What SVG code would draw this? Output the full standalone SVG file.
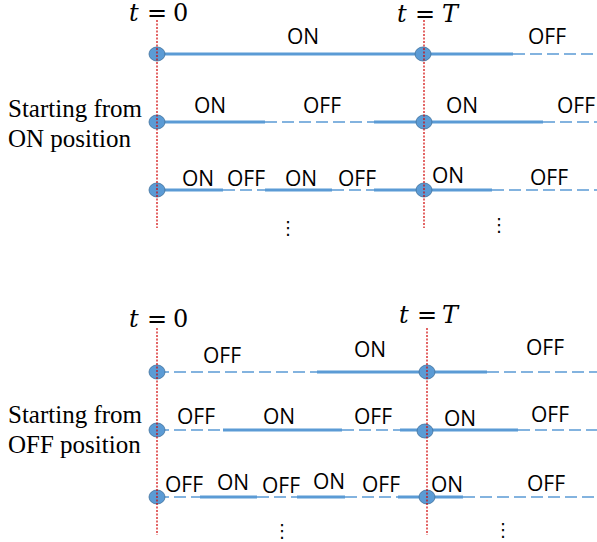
<svg xmlns="http://www.w3.org/2000/svg" width="597" height="542" viewBox="0 0 597 542">
<style>
.on{stroke:#5B9BD5;stroke-width:3;fill:none}
.off{stroke:#5B9BD5;stroke-width:1.5;stroke-dasharray:12 5;fill:none}
.dot{fill:#5B9BD5;stroke:#41719C;stroke-width:0.8}
.red{stroke:#D00000;stroke-width:1.2;stroke-dasharray:2 1.5}
.lbl{font-family:"Open Sans","Liberation Sans",sans-serif;font-size:21px;fill:#000}
.side{font-family:"Liberation Serif",serif;font-size:25px;fill:#000}
.math{font-family:"DejaVu Serif","Liberation Serif",serif;font-size:24px;fill:#000}
.vd{font-family:"DejaVu Sans",sans-serif;font-size:18px;fill:#000;text-anchor:middle}
</style>

<g id="connectors">
  <line class="on" x1="157" y1="54" x2="513" y2="54"/>
  <line class="off" x1="513" y1="54" x2="597" y2="54"/>

  <line class="on" x1="157" y1="122" x2="265" y2="122"/>
  <line class="off" x1="265" y1="122" x2="374" y2="122"/>
  <line class="on" x1="374" y1="122" x2="543" y2="122"/>
  <line class="off" x1="543" y1="122" x2="597" y2="122"/>

  <line class="on" x1="157" y1="190" x2="223" y2="190"/>
  <line class="off" x1="223" y1="190" x2="265" y2="190"/>
  <line class="on" x1="265" y1="190" x2="332" y2="190"/>
  <line class="off" x1="332" y1="190" x2="374" y2="190"/>
  <line class="on" x1="374" y1="190" x2="492" y2="190"/>
  <line class="off" x1="492" y1="190" x2="597" y2="190"/>

  <line class="off" x1="157" y1="372" x2="317" y2="372"/>
  <line class="on" x1="317" y1="372" x2="487" y2="372"/>
  <line class="off" x1="487" y1="372" x2="597" y2="372"/>

  <line class="off" x1="157" y1="430" x2="223" y2="430"/>
  <line class="on" x1="223" y1="430" x2="342" y2="430"/>
  <line class="off" x1="342" y1="430" x2="400" y2="430"/>
  <line class="on" x1="400" y1="430" x2="518" y2="430"/>
  <line class="off" x1="518" y1="430" x2="597" y2="430"/>

  <line class="off" x1="157" y1="497" x2="200" y2="497"/>
  <line class="on" x1="200" y1="497" x2="257" y2="497"/>
  <line class="off" x1="257" y1="497" x2="297" y2="497"/>
  <line class="on" x1="297" y1="497" x2="345" y2="497"/>
  <line class="off" x1="345" y1="497" x2="398" y2="497"/>
  <line class="on" x1="398" y1="497" x2="463" y2="497"/>
  <line class="off" x1="463" y1="497" x2="597" y2="497"/>
</g>

<g id="top-nodes">
  <g id="n-t1-0"><ellipse class="dot" cx="157" cy="54" rx="8" ry="7"/></g>
  <g id="n-t1-T"><ellipse class="dot" cx="423" cy="54" rx="8" ry="7"/></g>
  <g id="n-t2-0"><ellipse class="dot" cx="157" cy="122" rx="8" ry="7"/></g>
  <g id="n-t2-T"><ellipse class="dot" cx="424" cy="122" rx="8" ry="7"/></g>
  <g id="n-t3-0"><ellipse class="dot" cx="157" cy="190" rx="8" ry="7"/></g>
  <g id="n-t3-T"><ellipse class="dot" cx="424" cy="190" rx="8" ry="7"/></g>
</g>
<g id="bottom-nodes">
  <g id="n-b1-0"><ellipse class="dot" cx="157" cy="372" rx="8" ry="7"/></g>
  <g id="n-b1-T"><ellipse class="dot" cx="427" cy="372" rx="8" ry="7"/></g>
  <g id="n-b2-0"><ellipse class="dot" cx="157" cy="430" rx="8" ry="7"/></g>
  <g id="n-b2-T"><ellipse class="dot" cx="425" cy="431" rx="8" ry="7"/></g>
  <g id="n-b3-0"><ellipse class="dot" cx="157" cy="497" rx="8" ry="7"/></g>
  <g id="n-b3-T"><ellipse class="dot" cx="427" cy="497" rx="8" ry="7"/></g>
</g>

<g id="time-markers">
  <line class="red" x1="157" y1="20" x2="157" y2="228"/>
  <line class="red" x1="424" y1="20" x2="424" y2="228"/>
  <line class="red" x1="157" y1="328" x2="157" y2="535"/>
  <line class="red" x1="427" y1="328" x2="427" y2="535"/>
  <text class="math" y="21"><tspan x="129" font-style="italic">t</tspan><tspan x="147">=</tspan><tspan x="173">0</tspan></text>
  <text class="math" y="22"><tspan x="397" font-style="italic">t</tspan><tspan x="415">=</tspan><tspan x="442" font-style="italic">T</tspan></text>
  <text class="math" y="327"><tspan x="129" font-style="italic">t</tspan><tspan x="147">=</tspan><tspan x="173">0</tspan></text>
  <text class="math" y="323"><tspan x="399" font-style="italic">t</tspan><tspan x="417">=</tspan><tspan x="442" font-style="italic">T</tspan></text>
</g>

<g id="side-labels">
  <text class="side" x="8" y="117">Starting from</text>
  <text class="side" x="8" y="147">ON position</text>
  <text class="side" x="8" y="423">Starting from</text>
  <text class="side" x="8" y="453">OFF position</text>
</g>

<g id="state-labels">
  <text class="lbl" x="287" y="44">ON</text>
  <text class="lbl" x="528" y="44">OFF</text>

  <text class="lbl" x="194" y="113">ON</text>
  <text class="lbl" x="303" y="113">OFF</text>
  <text class="lbl" x="446" y="113">ON</text>
  <text class="lbl" x="557" y="113">OFF</text>

  <text class="lbl" x="182" y="186">ON</text>
  <text class="lbl" x="227" y="186">OFF</text>
  <text class="lbl" x="285" y="186">ON</text>
  <text class="lbl" x="338" y="186">OFF</text>
  <text class="lbl" x="432" y="183">ON</text>
  <text class="lbl" x="530" y="185">OFF</text>

  <text class="lbl" x="203" y="363">OFF</text>
  <text class="lbl" x="354" y="357">ON</text>
  <text class="lbl" x="526" y="355">OFF</text>

  <text class="lbl" x="177" y="424">OFF</text>
  <text class="lbl" x="263" y="424">ON</text>
  <text class="lbl" x="354" y="424">OFF</text>
  <text class="lbl" x="444" y="426">ON</text>
  <text class="lbl" x="531" y="422">OFF</text>

  <text class="lbl" x="165" y="492">OFF</text>
  <text class="lbl" x="217" y="490">ON</text>
  <text class="lbl" x="262" y="493">OFF</text>
  <text class="lbl" x="313" y="489">ON</text>
  <text class="lbl" x="362" y="492">OFF</text>
  <text class="lbl" x="431" y="492">ON</text>
  <text class="lbl" x="527" y="491">OFF</text>
</g>

<g id="ellipses">
  <text class="vd" x="288" y="234">⋮</text>
  <text class="vd" x="499" y="231">⋮</text>
  <text class="vd" x="282" y="537">⋮</text>
  <text class="vd" x="503" y="536">⋮</text>
</g>
</svg>
